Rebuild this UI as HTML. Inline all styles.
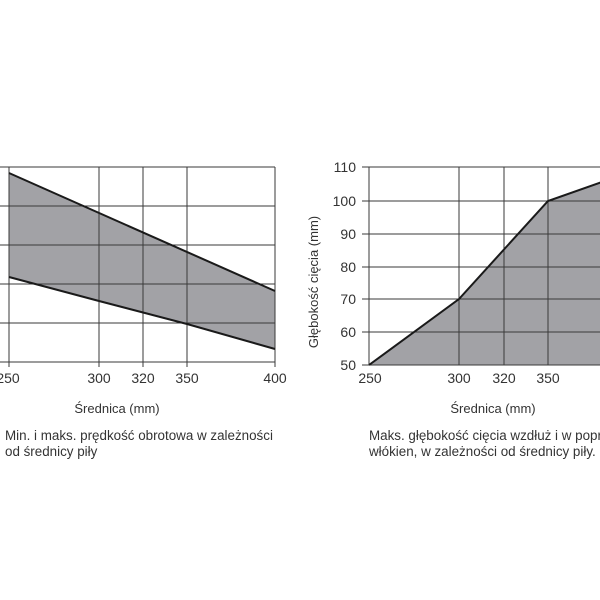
<!DOCTYPE html>
<html><head><meta charset="utf-8"><style>
html,body{margin:0;padding:0;background:#fff;width:600px;height:600px;overflow:hidden}
svg text{font-family:"Liberation Sans",sans-serif;fill:#333}
</style></head><body>
<svg width="600" height="600" viewBox="0 0 600 600" xmlns="http://www.w3.org/2000/svg">
<!-- Left chart -->
<polygon points="9,173 275,291 275,349 187,324 99,301 9,277" fill="#a2a2a6"/>
<g stroke="#3a3a3a" stroke-width="1" fill="none">
<line x1="0" y1="167" x2="275" y2="167"/>
<line x1="0" y1="206" x2="275" y2="206"/>
<line x1="0" y1="245" x2="275" y2="245"/>
<line x1="0" y1="284" x2="275" y2="284"/>
<line x1="0" y1="323" x2="275" y2="323"/>
<line x1="0" y1="362" x2="275" y2="362"/>
<line x1="9" y1="167" x2="9" y2="367"/>
<line x1="99" y1="167" x2="99" y2="367"/>
<line x1="143" y1="167" x2="143" y2="367"/>
<line x1="187" y1="167" x2="187" y2="367"/>
<line x1="275" y1="167" x2="275" y2="367"/>
</g>
<polyline points="9,173 275,291" stroke="#1a1a1a" stroke-width="2" fill="none"/>
<polyline points="9,277 99,301 187,324 275,349" stroke="#1a1a1a" stroke-width="2" fill="none"/>
<g font-size="14" text-anchor="middle">
<text x="8" y="383">250</text><text x="99" y="383">300</text><text x="143" y="383">320</text><text x="187" y="383">350</text><text x="275" y="383">400</text>
</g>
<text x="117" y="413" font-size="13" text-anchor="middle">Średnica (mm)</text>
<text x="5" y="440" font-size="13.4">Min. i maks. prędkość obrotowa w zależności</text>
<text x="5" y="456" font-size="13.4">od średnicy piły</text>

<!-- Right chart -->
<polygon points="369,365 459,299 548,201 600,183 600,365" fill="#a2a2a6"/>
<g stroke="#3a3a3a" stroke-width="1" fill="none">
<line x1="362" y1="167" x2="600" y2="167"/>
<line x1="362" y1="201" x2="600" y2="201"/>
<line x1="362" y1="234" x2="600" y2="234"/>
<line x1="362" y1="267" x2="600" y2="267"/>
<line x1="362" y1="299" x2="600" y2="299"/>
<line x1="362" y1="332" x2="600" y2="332"/>
<line x1="362" y1="365" x2="600" y2="365"/>
<line x1="369" y1="167" x2="369" y2="365"/>
<line x1="459" y1="167" x2="459" y2="365"/>
<line x1="504" y1="167" x2="504" y2="365"/>
<line x1="548" y1="167" x2="548" y2="365"/>
</g>
<polyline points="369,365 459,299 548,201 602,182" stroke="#1a1a1a" stroke-width="2" fill="none"/>
<g font-size="14" text-anchor="end">
<text x="356" y="172">110</text><text x="356" y="206">100</text><text x="356" y="239">90</text><text x="356" y="272">80</text><text x="356" y="304">70</text><text x="356" y="337">60</text><text x="356" y="370">50</text>
</g>
<g font-size="14" text-anchor="middle">
<text x="370" y="383">250</text><text x="459" y="383">300</text><text x="504" y="383">320</text><text x="548" y="383">350</text>
</g>
<text transform="translate(318,282) rotate(-90)" font-size="13" text-anchor="middle">Głębokość cięcia (mm)</text>
<text x="493" y="413" font-size="13" text-anchor="middle">Średnica (mm)</text>
<text x="369" y="440" font-size="13.4">Maks. głębokość cięcia wzdłuż i w poprzek</text>
<text x="369" y="456" font-size="13.4">włókien, w zależności od średnicy piły.</text>
</svg>
</body></html>
